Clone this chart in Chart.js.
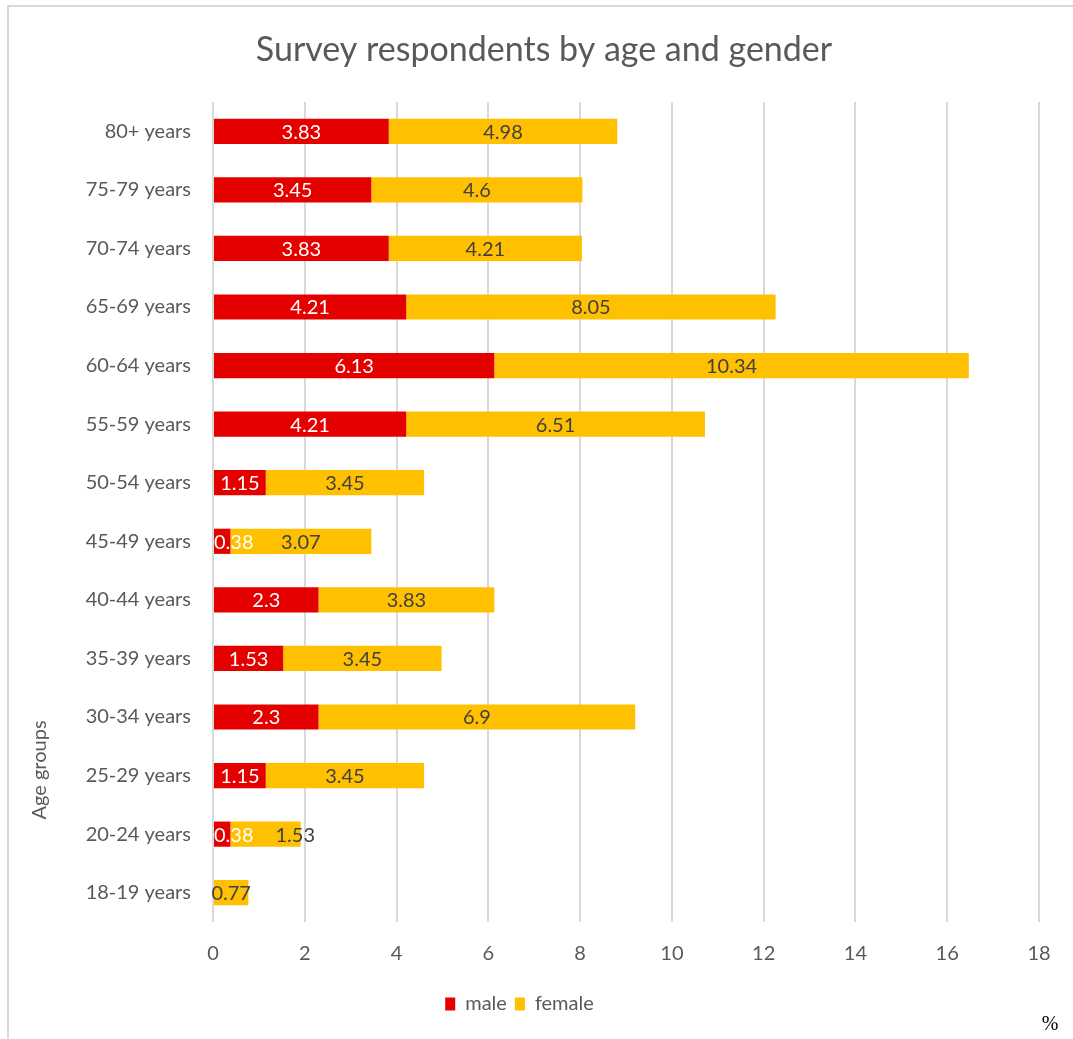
<!DOCTYPE html>
<html>
<head>
<meta charset="utf-8">
<script src="https://cdn.jsdelivr.net/npm/chart.js@4/dist/chart.umd.min.js"></script>
<style>
  body { margin: 0; background: #fff; }
  canvas { display: block; }
</style>
</head>
<body>
<canvas id="chart" width="1073" height="1039"></canvas>
<script>
var ageGroups = ["80+ years", "75-79 years", "70-74 years", "65-69 years", "60-64 years", "55-59 years",
  "50-54 years", "45-49 years", "40-44 years", "35-39 years", "30-34 years", "25-29 years",
  "20-24 years", "18-19 years"];
var maleValues = [3.83, 3.45, 3.83, 4.21, 6.13, 4.21, 1.15, 0.38, 2.3, 1.53, 2.3, 1.15, 0.38, null];
var femaleValues = [4.98, 4.6, 4.21, 8.05, 10.34, 6.51, 3.45, 3.07, 3.83, 3.45, 6.9, 3.45, 1.53, 0.77];
var xTicks = [0, 2, 4, 6, 8, 10, 12, 14, 16, 18];
var chartTitle = "Survey respondents by age and gender";

var FONT = "Lato";

// value labels in each segment; small male labels are pushed inside the plot,
// female labels are pushed right so they do not run into them
var barLabels = {
  id: "barLabels",
  afterDatasetsDraw: function(chart) {
    var ctx = chart.ctx;
    ctx.save();
    ctx.font = "20px " + FONT;
    ctx.textAlign = "center";
    ctx.textBaseline = "middle";
    var maleMeta = chart.getDatasetMeta(0);
    var femaleMeta = chart.getDatasetMeta(1);
    var maleX = [], maleRight = [];
    maleMeta.data.forEach(function(bar, j) {
      var v = maleValues[j];
      if (v == null || v === 0) { maleRight[j] = null; return; }
      var w = ctx.measureText(String(v)).width;
      var x = Math.max((bar.x + bar.base) / 2, chart.chartArea.left + w / 2 + 1);
      maleX[j] = x;
      maleRight[j] = x + w / 2;
    });
    femaleMeta.data.forEach(function(bar, j) {
      var v = femaleValues[j];
      if (v == null || v === 0) return;
      var w = ctx.measureText(String(v)).width;
      var x = (bar.x + bar.base) / 2;
      if (maleRight[j] != null) x = Math.max(x, maleRight[j] + 22 + w / 2);
      ctx.fillStyle = "#404040";
      ctx.fillText(String(v), x, bar.y + 1);
    });
    maleMeta.data.forEach(function(bar, j) {
      if (maleRight[j] == null) return;
      ctx.fillStyle = "#ffffff";
      ctx.fillText(String(maleValues[j]), maleX[j], bar.y + 1);
    });
    ctx.restore();
  }
};

// frame, title, axis title and the % note
var extras = {
  id: "extras",
  beforeDraw: function(chart) {
    var ctx = chart.ctx;
    ctx.save();
    ctx.fillStyle = "#ffffff";
    ctx.fillRect(0, 0, chart.width, chart.height);
    ctx.strokeStyle = "#d9d9d9";
    ctx.lineWidth = 2;
    ctx.beginPath();
    ctx.moveTo(8, chart.height + 5);
    ctx.lineTo(8, 6);
    ctx.lineTo(chart.width + 5, 6);
    ctx.stroke();
    ctx.restore();
  },
  afterDraw: function(chart) {
    var ctx = chart.ctx;
    ctx.save();
    ctx.fillStyle = "#595959";
    ctx.font = "34px " + FONT;
    ctx.textAlign = "center";
    ctx.textBaseline = "middle";
    ctx.fillText(chartTitle, 544, 50);
    ctx.restore();

    ctx.save();
    ctx.fillStyle = "#595959";
    ctx.font = "20px " + FONT;
    ctx.textAlign = "center";
    ctx.textBaseline = "middle";
    ctx.translate(40, 770);
    ctx.rotate(-Math.PI / 2);
    ctx.fillText("Age groups", 0, 0);
    ctx.restore();

    ctx.save();
    ctx.fillStyle = "#000000";
    ctx.font = "20px 'Liberation Serif'";
    ctx.textAlign = "center";
    ctx.textBaseline = "middle";
    ctx.fillText("%", 1050, 1025);
    ctx.restore();
  }
};

window.chart = new Chart(document.getElementById("chart").getContext("2d"), {
  type: "bar",
  data: {
    labels: ageGroups,
    datasets: [
      { label: "male", data: maleValues, backgroundColor: "#e50000", barPercentage: 0.43, categoryPercentage: 1 },
      { label: "female", data: femaleValues, backgroundColor: "#ffc000", barPercentage: 0.43, categoryPercentage: 1 }
    ]
  },
  options: {
    indexAxis: "y",
    responsive: false,
    animation: false,
    layout: { padding: { left: 0, right: 34, top: 102, bottom: 15 } },
    plugins: {
      title: { display: false },
      legend: {
        position: "bottom",
        labels: {
          color: "#595959",
          font: { family: FONT, size: 20 },
          boxWidth: 10,
          boxHeight: 13,
          padding: 8
        }
      },
      tooltip: { enabled: false }
    },
    scales: {
      x: {
        stacked: true,
        min: 0,
        max: 18,
        afterBuildTicks: function(scale) {
          scale.ticks = xTicks.map(function(v) { return { value: v }; });
        },
        border: { display: false },
        grid: { color: "#d9d9d9", lineWidth: 2, drawTicks: false },
        ticks: { color: "#595959", font: { family: FONT, size: 20 }, padding: 20 }
      },
      y: {
        stacked: true,
        afterFit: function(scale) { scale.width = 213; },
        border: { display: false },
        grid: { display: false, drawTicks: false },
        ticks: { color: "#595959", font: { family: FONT, size: 20 }, padding: 22 }
      }
    }
  },
  plugins: [barLabels, extras]
});
</script>
</body>
</html>
